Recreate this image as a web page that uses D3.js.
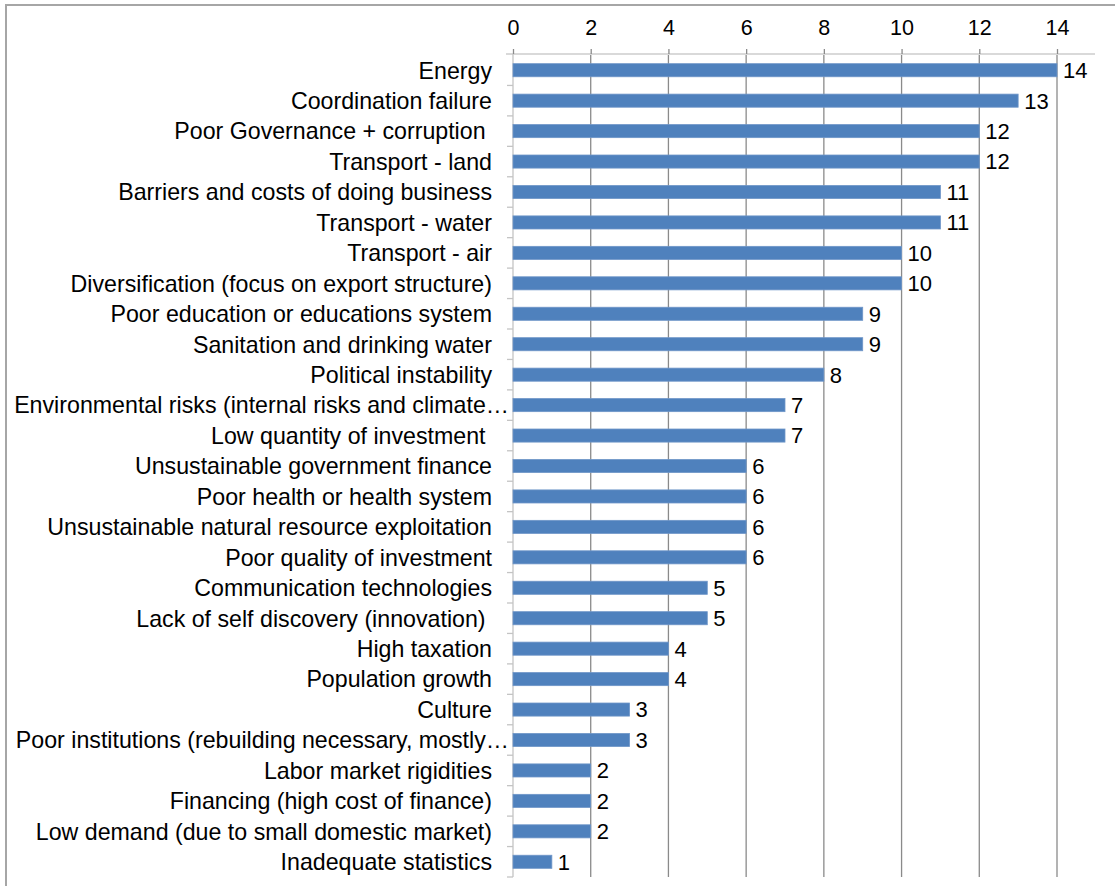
<!DOCTYPE html>
<html>
<head>
<meta charset="utf-8">
<script src="https://cdn.jsdelivr.net/npm/d3@7"></script>
<style>
  html, body { margin: 0; padding: 0; background: #fff; }
  svg { display: block; }
  text { font-family: "Liberation Sans", Arial, sans-serif; fill: #000; }
</style>
</head>
<body>
<svg id="chart" width="1115" height="886"></svg>
<script>
// Constraints ranked by number of mentions
const categories = [
  "Energy",
  "Coordination failure",
  "Poor Governance + corruption ",
  "Transport - land",
  "Barriers and costs of doing business",
  "Transport - water",
  "Transport - air",
  "Diversification (focus on export structure)",
  "Poor education or educations system",
  "Sanitation and drinking water",
  "Political instability",
  "Environmental risks (internal risks and climate…",
  "Low quantity of investment ",
  "Unsustainable government finance",
  "Poor health or health system",
  "Unsustainable natural resource exploitation",
  "Poor quality of investment",
  "Communication technologies",
  "Lack of self discovery (innovation) ",
  "High taxation",
  "Population growth",
  "Culture",
  "Poor institutions (rebuilding necessary, mostly…",
  "Labor market rigidities",
  "Financing (high cost of finance)",
  "Low demand (due to small domestic market)",
  "Inadequate statistics"
];
const values = [14, 13, 12, 12, 11, 11, 10, 10, 9, 9, 8, 7, 7, 6, 6, 6, 6, 5, 5, 4, 4, 3, 3, 2, 2, 2, 1];
const xTicks = [0, 2, 4, 6, 8, 10, 12, 14];

const svg = d3.select("#chart");

// outer frame (top and left edges visible)
svg.append("path")
  .attr("d", "M6,886 V5 H1115")
  .attr("fill", "none")
  .attr("stroke", "#a6a6a6")
  .attr("stroke-width", 2);

const x = d3.scaleLinear().domain([0, 14]).range([513, 1057]);
const y = d3.scaleBand().domain(categories).range([55, 877]).paddingInner(0.57).paddingOuter(0.285);

// vertical gridlines
svg.append("g")
  .selectAll("line")
  .data(xTicks.filter(d => d > 0))
  .join("line")
  .attr("x1", d => x(d)).attr("x2", d => x(d))
  .attr("y1", 54).attr("y2", 877)
  .attr("stroke", "#8a8a8a")
  .attr("stroke-width", 1.3);

// top value axis
const xAxis = svg.append("g")
  .attr("transform", "translate(0,54)")
  .call(d3.axisTop(x).tickValues(xTicks).tickSize(5).tickPadding(14));
xAxis.select(".domain")
  .attr("d", "M506,0 H1095")
  .attr("stroke", "#d9d9d9")
  .attr("stroke-width", 2);
xAxis.selectAll(".tick line").attr("stroke", "#8a8a8a").attr("stroke-width", 1.3);
xAxis.selectAll(".tick text")
  .attr("font-size", 21.5)
  .attr("font-family", "'Liberation Sans', Arial, sans-serif")
  .attr("fill", "#000");

// category axis line with tick marks between categories
const step = y.step();
const boundaries = d3.range(categories.length + 1).map(i => y.range()[0] + i * step);
svg.append("line")
  .attr("x1", x(0)).attr("x2", x(0))
  .attr("y1", 54).attr("y2", 877)
  .attr("stroke", "#c4c4c4")
  .attr("stroke-width", 1.3);
svg.append("g")
  .selectAll("line")
  .data(boundaries.slice(1))
  .join("line")
  .attr("x1", x(0) - 6).attr("x2", x(0))
  .attr("y1", d => d).attr("y2", d => d)
  .attr("stroke", "#c4c4c4")
  .attr("stroke-width", 1.3);

// category labels
svg.append("g")
  .selectAll("text")
  .data(categories)
  .join("text")
  .attr("x", d => d.endsWith("…") ? x(0) - 4 : x(0) - 21)
  .attr("y", d => y(d) + y.bandwidth() / 2)
  .attr("dy", "0.36em")
  .attr("text-anchor", "end")
  .attr("font-size", 23.2)
  .style("white-space", "pre")
  .text(d => d);

// bars
svg.append("g")
  .selectAll("rect")
  .data(values)
  .join("rect")
  .attr("x", x(0))
  .attr("y", (d, i) => y(categories[i]))
  .attr("width", d => x(d) - x(0))
  .attr("height", y.bandwidth())
  .attr("fill", "#4f81bd")
  .attr("stroke", "#6f96c8")
  .attr("stroke-width", 0.8);

// value labels
svg.append("g")
  .selectAll("text")
  .data(values)
  .join("text")
  .attr("x", d => x(d) + 6)
  .attr("y", (d, i) => y(categories[i]) + y.bandwidth() / 2)
  .attr("dy", "0.36em")
  .attr("font-size", 22)
  .text(d => d);
</script>
</body>
</html>
